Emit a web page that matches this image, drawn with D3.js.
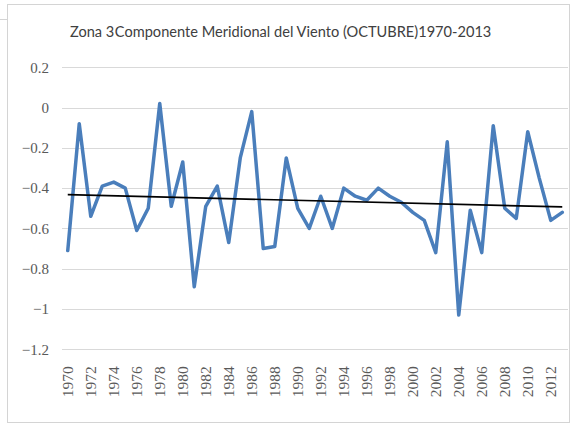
<!DOCTYPE html>
<html>
<head>
<meta charset="utf-8">
<script src="https://cdn.jsdelivr.net/npm/d3@7"></script>
<style>
  html, body { margin: 0; padding: 0; background: #fff; }
  svg { display: block; }
</style>
</head>
<body>
<svg id="chart" width="575" height="424"></svg>
<script>
// Years of the October series
const years = d3.range(1970, 2014);

// Meridional wind component, October, per year
const values = [
  -0.71, -0.08, -0.54, -0.39, -0.37, -0.40, -0.61, -0.50, 0.02, -0.49, -0.27,
  -0.89, -0.49, -0.39, -0.67, -0.25, -0.02, -0.70, -0.69, -0.25, -0.50,
  -0.60, -0.44, -0.60, -0.40, -0.44, -0.46, -0.40, -0.44, -0.47, -0.52,
  -0.56, -0.72, -0.17, -1.03, -0.51, -0.72, -0.09, -0.50, -0.55, -0.12,
  -0.35, -0.56, -0.52
];

// Axis tick labels
const yTicks = [0.2, 0, -0.2, -0.4, -0.6, -0.8, -1, -1.2];
const xTickYears = years.filter(y => (y - 1970) % 2 === 0);

const titleLead = "Zona 3";
const titleMain = "Componente Meridional del Viento (OCTUBRE)1970-2013";

const svg = d3.select("#chart");

// Outer chart frame
svg.append("rect")
  .attr("x", 7.5).attr("y", 4.5)
  .attr("width", 562).attr("height", 418)
  .attr("fill", "#fff")
  .attr("stroke", "#d4d4d4")
  .attr("stroke-width", 1);
svg.append("line")
  .attr("x1", 0).attr("x2", 7.5)
  .attr("y1", 19.5).attr("y2", 19.5)
  .attr("stroke", "#d4d4d4");

const plot = { left: 62, right: 568, top: 67.3, bottom: 349.3 };

const x = d3.scaleBand()
  .domain(years)
  .range([plot.left, plot.right])
  .paddingInner(0).paddingOuter(0);
const xc = yr => x(yr) + x.bandwidth() / 2;

const y = d3.scaleLinear()
  .domain([-1.2, 0.2])
  .range([plot.bottom, plot.top]);

// Horizontal gridlines
svg.append("g")
  .selectAll("line")
  .data(yTicks)
  .join("line")
  .attr("x1", plot.left).attr("x2", plot.right)
  .attr("y1", d => Math.round(y(d)) + 0.5)
  .attr("y2", d => Math.round(y(d)) + 0.5)
  .attr("stroke", "#d9d9d9")
  .attr("stroke-width", 1);

// Y axis labels
const yAxis = d3.axisLeft(y)
  .tickValues(yTicks)
  .tickFormat(d => d3.format("")(Math.round(d * 10) / 10))
  .tickSize(0)
  .tickPadding(0);
const gy = svg.append("g")
  .attr("transform", `translate(49,0)`)
  .call(yAxis);
gy.select(".domain").remove();
gy.selectAll("text")
  .attr("font-family", "'Liberation Serif', 'Times New Roman', serif")
  .attr("font-size", 15)
  .attr("fill", "#595959");

// X axis labels, rotated
const xAxis = d3.axisBottom(x)
  .tickValues(xTickYears)
  .tickSize(0)
  .tickPadding(0);
const gx = svg.append("g")
  .attr("transform", `translate(0,${plot.bottom})`)
  .call(xAxis);
gx.select(".domain").remove();
gx.selectAll("text")
  .attr("font-family", "'Liberation Serif', 'Times New Roman', serif")
  .attr("font-size", 15.5)
  .attr("fill", "#595959")
  .attr("text-anchor", "end")
  .attr("transform", "rotate(-90)")
  .attr("x", -17)
  .attr("y", 0)
  .attr("dy", "0.35em");

// Data series
const pts = years.map((yr, i) => [xc(yr), y(values[i])]);
svg.append("path")
  .attr("d", d3.line()(pts))
  .attr("fill", "none")
  .attr("stroke", "#4A7EBB")
  .attr("stroke-width", 3.5)
  .attr("stroke-linejoin", "round")
  .attr("stroke-linecap", "round");

// Linear trend (least squares) over the series
const idx = years.map((_, i) => i + 1);
const mx = d3.mean(idx), my = d3.mean(values);
const slope = d3.sum(idx, (t, i) => (t - mx) * (values[i] - my)) /
              d3.sum(idx, t => (t - mx) * (t - mx));
const icpt = my - slope * mx;
const trend = [years[0], years[years.length - 1]].map((yr, k) => {
  const t = k === 0 ? 1 : years.length;
  return [xc(yr), y(icpt + slope * t)];
});
svg.append("path")
  .attr("d", d3.line()(trend))
  .attr("fill", "none")
  .attr("stroke", "#000")
  .attr("stroke-width", 1.6);

// Title: zone number followed directly by the chart name
const titleFont = "Lato, 'Open Sans', sans-serif";
const lead = svg.append("text")
  .attr("x", 70).attr("y", 37)
  .attr("font-family", titleFont)
  .attr("font-size", 14.6)
  .attr("fill", "#404040")
  .text(titleLead);
const leadW = lead.node().getComputedTextLength();
svg.append("text")
  .attr("x", 70 + leadW + 0.5).attr("y", 37)
  .attr("font-family", titleFont)
  .attr("font-size", 14.6)
  .attr("fill", "#404040")
  .text(titleMain);
</script>
</body>
</html>
